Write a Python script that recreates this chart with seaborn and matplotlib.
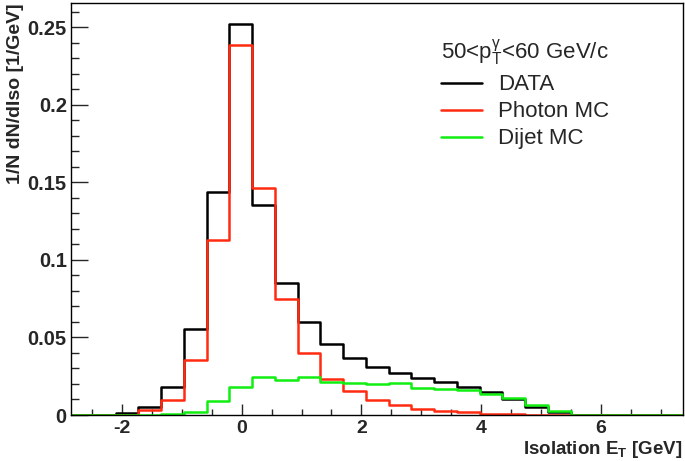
import numpy as np
import pandas as pd
import matplotlib
matplotlib.use("Agg")
import matplotlib.pyplot as plt
from matplotlib.lines import Line2D
from matplotlib.ticker import MultipleLocator, FuncFormatter
import seaborn as sns

# ---- data (bin contents, 1/N dN/dIso) ----
bin_start = -2.866
bin_width = 0.38
data_vals = [0.0, 0.0, 0.0013, 0.0049, 0.0179, 0.0553, 0.1434, 0.2521, 0.1354,
             0.0849, 0.0600, 0.0459, 0.0369, 0.0311, 0.0269, 0.0241, 0.0211,
             0.0183, 0.0147, 0.0105, 0.0053, 0.0019, 0.0003, 0.0, 0.0, 0.0, 0.0]
photon_vals = [0.0, 0.0, 0.0003, 0.0034, 0.0098, 0.0354, 0.1127, 0.2383, 0.1464,
               0.0750, 0.0402, 0.0235, 0.0154, 0.0094, 0.0062, 0.0040, 0.0026,
               0.0019, 0.0008, 0.0005, 0.0003, 0.0002, 0.0, 0.0, 0.0, 0.0, 0.0]
dijet_vals = [0.0, 0.0, 0.0, 0.0, 0.0006, 0.0019, 0.0087, 0.0179, 0.0245,
              0.0226, 0.0246, 0.0210, 0.0207, 0.0197, 0.0209, 0.0174, 0.0167,
              0.0160, 0.0135, 0.0109, 0.0066, 0.0023, 0.0003, 0.0, 0.0, 0.0, 0.0]
series_names = ["DATA", "Photon MC", "Dijet MC"]
series_colors = ["#000000", "#ff2a10", "#11ee11"]
legend_title = r"50<p$_\mathregular{T}^{\gamma}$<60 GeV/c"
x_label = r"Isolation E$_\mathbf{T}$ [GeV]"
y_label = "1/N dN/dIso [1/GeV]"

n_bins = len(data_vals)
edges = [float(e) for e in bin_start + bin_width * np.arange(n_bins + 1)]
centers = [0.5 * (a + b) for a, b in zip(edges[:-1], edges[1:])]

sns.set_style("white")
plt.rcParams["font.family"] = ["Liberation Sans", "DejaVu Sans"]
plt.rcParams["axes.unicode_minus"] = False
plt.rcParams["mathtext.fontset"] = "custom"
plt.rcParams["mathtext.rm"] = "Liberation Sans"
plt.rcParams["mathtext.bf"] = "Liberation Sans:bold"
plt.rcParams["mathtext.it"] = "Liberation Sans:italic"
plt.rcParams["mathtext.default"] = "regular"

fig = plt.figure(figsize=(6.85, 4.61), dpi=100)
ax = fig.add_axes([71 / 685, 1 - 415 / 461, 612 / 685, 412 / 461])

for name, vals, col in zip(series_names, [data_vals, photon_vals, dijet_vals], series_colors):
    df = pd.DataFrame({"iso": centers, "w": vals})
    sns.histplot(data=df, x="iso", weights="w", bins=edges, element="step",
                 fill=False, color=col, linewidth=1.8, ax=ax, stat="count")

ax.set_xlim(-2.85, 7.37)
ax.set_ylim(0, 0.2655)
ax.set_xlabel("")
ax.set_ylabel("")

for s in ax.spines.values():
    s.set_color("black")
    s.set_linewidth(1.0)

ax.xaxis.set_major_locator(MultipleLocator(2))
ax.xaxis.set_minor_locator(MultipleLocator(0.5))
ax.yaxis.set_major_locator(MultipleLocator(0.05))
ax.yaxis.set_minor_locator(MultipleLocator(0.01))
ax.yaxis.set_major_formatter(FuncFormatter(lambda v, p: "0" if abs(v) < 1e-9 else f"{v:g}"))
ax.tick_params(axis="x", which="major", direction="in", length=8, width=1.0,
               labelsize=14, pad=3.5, top=False, bottom=True)
ax.tick_params(axis="x", which="minor", direction="in", length=4, width=1.0, top=False, bottom=True)
ax.tick_params(axis="y", which="major", direction="in", length=12, width=1.0,
               labelsize=14.5, pad=3, left=True, right=False)
ax.tick_params(axis="y", which="minor", direction="in", length=6, width=1.0, left=True, right=False)
for lab in ax.get_xticklabels() + ax.get_yticklabels():
    lab.set_fontweight("bold")

fig.text(683 / 685, 1 - 453.5 / 461, x_label, ha="right", va="baseline",
         fontsize=13.5, fontweight="bold")
fig.text(16 / 685, 1 - 3 / 461, y_label, ha="center", va="top", rotation=90,
         fontsize=14, fontweight="bold")

handles = [Line2D([], [], color=c, linewidth=1.8) for c in series_colors]
leg = ax.legend(handles, series_names, title=legend_title, loc="upper left",
                bbox_to_anchor=(370 / 612, 1 - 35 / 412), frameon=False,
                fontsize=16, title_fontsize=16, handlelength=1.85, handletextpad=0.7,
                labelspacing=0.27, borderaxespad=0, borderpad=0, alignment="left")

fig.savefig("out.png", dpi=100)
